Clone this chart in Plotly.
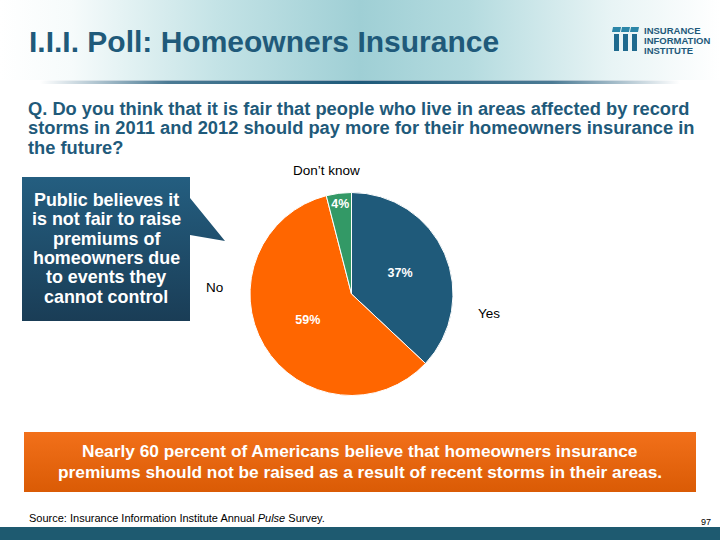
import plotly.graph_objects as go

# ---- data ----
categories = ["Yes", "No", "Don\u2019t know"]
values = [37, 59, 4]
slice_colors = ["#1F5A7A", "#FF6600", "#339966"]

title_text = "I.I.I. Poll: Homeowners Insurance"
question_lines = [
    "Q. Do you think that it is fair that people who live in areas affected by record",
    "storms in 2011 and 2012 should pay more for their homeowners insurance in",
    "the future?",
]
callout_lines = ["Public believes it", "is not fair to raise", "premiums of",
                 "homeowners due", "to events they", "cannot control"]
banner_lines = ["Nearly 60 percent of Americans believe that homeowners insurance",
                "premiums should not be raised as a result of recent storms in their areas."]
source_text = "Source: Insurance Information Institute Annual <i>Pulse</i> Survey."
page_no = "97"

W, H = 720, 540
ARIAL = "Liberation Sans, Arial, sans-serif"
TEAL = "#1F5A7A"

fig = go.Figure()

def poly(xs, ys, **kw):
    fig.add_trace(go.Scatter(x=xs, y=ys, mode="lines", fill="toself",
                             line=dict(width=0), hoverinfo="skip",
                             showlegend=False, **kw))

# header gradient
poly([0, 720, 720, 0, 0], [0, 0, 80, 80, 0],
     fillgradient=dict(type="horizontal", start=0, stop=720,
                       colorscale=[[0, "#ffffff"], [0.1, "#f6fbfb"], [0.3, "#c4e3e6"],
                                   [0.5, "#9fcfd5"], [0.65, "#b4dbdf"], [0.85, "#e8f4f5"],
                                   [1, "#ffffff"]]))
# header underline
poly([40, 680, 680, 40, 40], [80.5, 80.5, 84, 84, 80.5],
     fillgradient=dict(type="horizontal", start=40, stop=680,
                       colorscale=[[0, "rgba(31,90,122,0)"], [0.2, "rgba(31,90,122,0.8)"],
                                   [0.5, "rgba(31,90,122,1)"], [0.8, "rgba(31,90,122,0.8)"],
                                   [1, "rgba(31,90,122,0)"]]))
# callout box with pointer
poly([22, 190, 190, 225, 190, 190, 22, 22],
     [177, 177, 198, 241, 235, 321, 321, 177],
     fillgradient=dict(type="vertical", start=177, stop=321,
                       colorscale=[[0, "#245E80"], [1, "#1A3D56"]]))
# orange banner
poly([24, 696, 696, 24, 24], [432, 432, 492, 492, 432],
     fillgradient=dict(type="vertical", start=432, stop=492,
                       colorscale=[[0, "#F2701A"], [1, "#DA5B05"]]))
# bottom bar
poly([0, 720, 720, 0, 0], [527, 527, 540, 540, 527], fillcolor="#1E5A70")

# logo icon (three stylised i's)
for i, x0 in enumerate([612, 621, 630]):
    poly([x0 + 1, x0 + 9, x0 + 8, x0, x0 + 1], [27, 27, 32, 32, 27], fillcolor="#2B86A8")
    poly([x0 + 2, x0 + 7, x0 + 7, x0 + 2, x0 + 2], [34, 34, 51, 51, 34], fillcolor="#1F6A8E")

# pie
fig.add_trace(go.Pie(
    labels=categories, values=values, sort=False, direction="clockwise", rotation=0,
    marker=dict(colors=slice_colors, line=dict(color="white", width=1)),
    texttemplate="%{value}%", textinfo="text", textposition="inside",
    insidetextorientation="horizontal",
    textfont=dict(family=ARIAL, size=12.5, color="white", weight="bold"),
    domain=dict(x=[250 / W, 453 / W], y=[1 - 396 / H, 1 - 192 / H]),
    showlegend=False, hoverinfo="label+percent",
))

ann = []
def text(x, y, s, size, color="black", bold=False, family=ARIAL, xanchor="left"):
    ann.append(dict(x=x, y=y, xref="x", yref="y", text=s, showarrow=False,
                    xanchor=xanchor, yanchor="middle",
                    font=dict(family=family, size=size, color=color,
                              weight="bold" if bold else "normal")))

text(27, 41, title_text, 30, TEAL, True)
for k, s in enumerate(question_lines):
    text(26, 108 + k * 19.5, s, 18.3, TEAL, True)
for k, s in enumerate(callout_lines):
    text(106, 200 + k * 19.3, s, 17.9, "white", True, xanchor="center")
for k, s in enumerate(banner_lines):
    text(360, 451 + k * 21, s, 17.3, "white", True, xanchor="center")
text(326, 170, categories[2], 13.5, xanchor="center")
text(214, 287, categories[1], 13.5, xanchor="center")
text(489, 313, categories[0], 13.5, xanchor="center")
text(27, 518, source_text, 11, "black", False)
text(706, 522, page_no, 9, "black", False, xanchor="center")
for k, s in enumerate(["INSURANCE", "INFORMATION", "INSTITUTE"]):
    text(642, 30 + k * 10, s, 9.5, TEAL, True)

fig.update_layout(
    width=W, height=H, margin=dict(l=0, r=0, t=0, b=0),
    paper_bgcolor="white", plot_bgcolor="white",
    xaxis=dict(range=[0, W], visible=False, fixedrange=True),
    yaxis=dict(range=[H, 0], visible=False, fixedrange=True),
    annotations=ann,
)
fig.write_html("out.html", config={"displayModeBar": False},
               post_script="document.body.style.margin='0';document.body.style.overflow='hidden';")
